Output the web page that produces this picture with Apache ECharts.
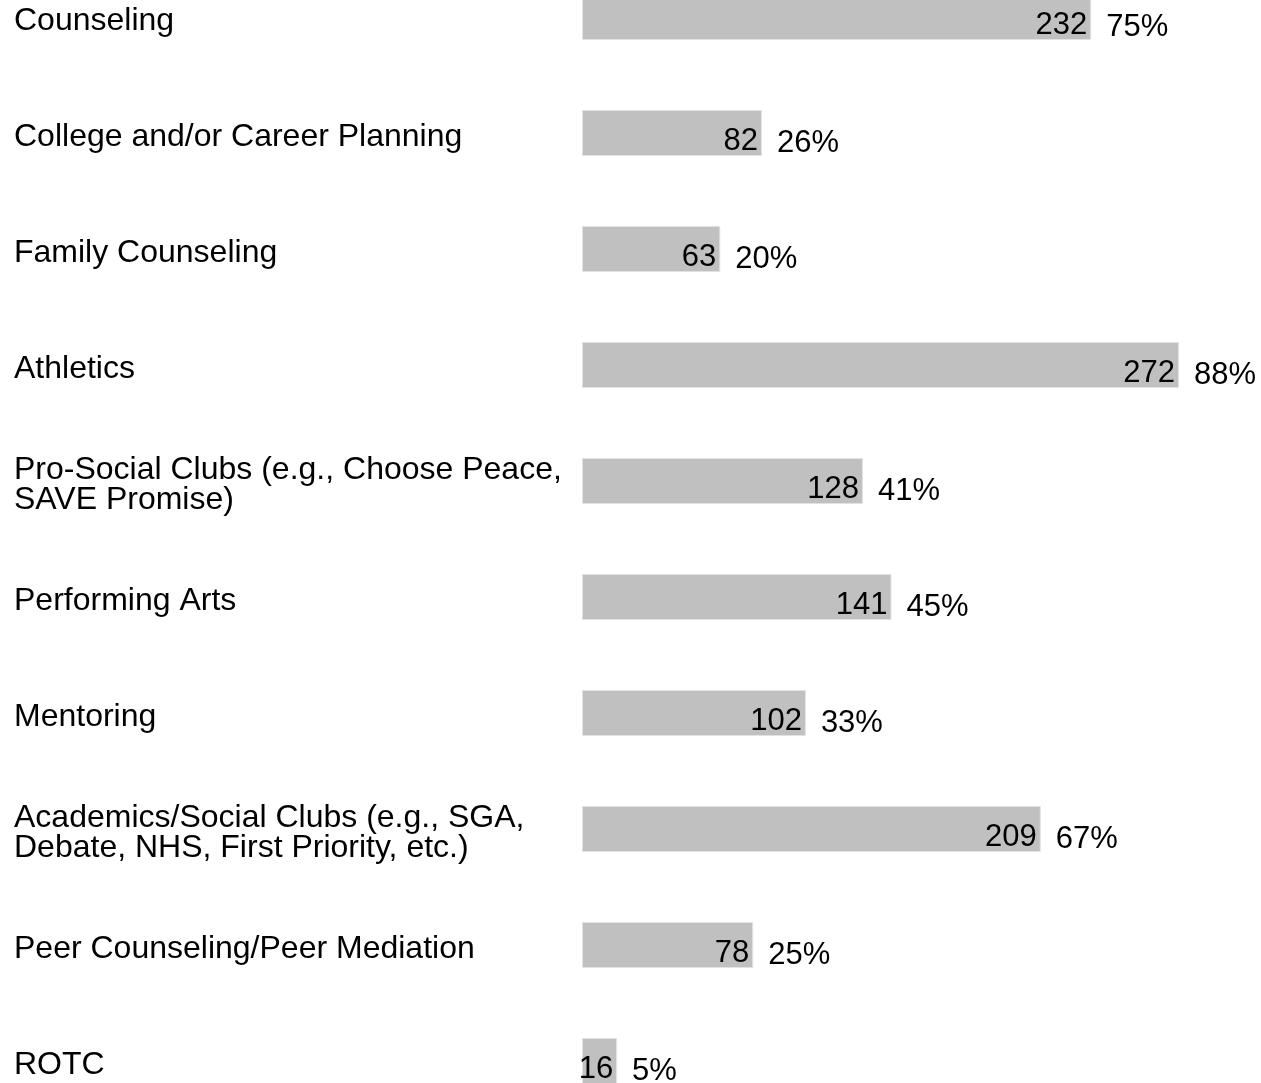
<!DOCTYPE html>
<html><head><meta charset="utf-8">
<script src="https://cdn.jsdelivr.net/npm/echarts@6/dist/echarts.min.js"></script>
<style>html,body{margin:0;padding:0;background:#fff;overflow:hidden}#c{width:1261px;height:1083px}</style>
</head><body><div id="c"></div>
<script>
var categories = [
  "Counseling",
  "College and/or Career Planning",
  "Family Counseling",
  "Athletics",
  "Pro-Social Clubs (e.g., Choose Peace,\nSAVE Promise)",
  "Performing Arts",
  "Mentoring",
  "Academics/Social Clubs (e.g., SGA,\nDebate, NHS, First Priority, etc.)",
  "Peer Counseling/Peer Mediation",
  "ROTC"
];
var counts = [232, 82, 63, 272, 128, 141, 102, 209, 78, 16];
var percents = [75, 26, 20, 88, 41, 45, 33, 67, 25, 5];

var FONT = '"Liberation Sans", Arial, sans-serif';
var FS = 31;
var chart = echarts.init(document.getElementById('c'), null, {renderer: 'canvas'});
chart.setOption({
  animation: false,
  backgroundColor: '#ffffff',
  grid: {left: 582, top: -41, width: 597, height: 1160, containLabel: false, outerBoundsMode: 'none'},
  xAxis: {type: 'value', min: 0, max: 272, show: false},
  yAxis: {
    type: 'category', data: categories, inverse: true,
    axisLine: {show: false}, axisTick: {show: false}, splitLine: {show: false},
    axisLabel: {
      align: 'left', margin: 568, color: '#000', fontFamily: FONT, fontSize: 32,
      formatter: function (v) {
        return v.split('\n').map(function (l, i) { return (i === 0 ? '{a|' : '{b|') + l + '}'; }).join('\n');
      },
      rich: {
        a: {fontFamily: FONT, fontSize: 32, color: '#000', lineHeight: 30, padding: [9, 0, 0, 0]},
        b: {fontFamily: FONT, fontSize: 32, color: '#000', lineHeight: 30, padding: [8, 0, 0, 0]}
      }
    }
  },
  series: [
    {
      type: 'bar', data: counts, barWidth: 46,
      itemStyle: {color: '#c0c0c0', borderColor: '#e2e2e2', borderWidth: 1},
      label: {show: true, position: 'insideRight', distance: 4, color: '#000',
        fontFamily: FONT, fontSize: FS, offset: [0, 8]}
    },
    {
      type: 'bar', data: counts, barWidth: 46, barGap: '-100%',
      itemStyle: {color: 'rgba(0,0,0,0)'},
      label: {show: true, position: 'right', distance: 15, color: '#000',
        fontFamily: FONT, fontSize: FS, offset: [0, 10],
        formatter: function (p) { return percents[p.dataIndex] + '%'; }}
    }
  ]
});
</script></body></html>
